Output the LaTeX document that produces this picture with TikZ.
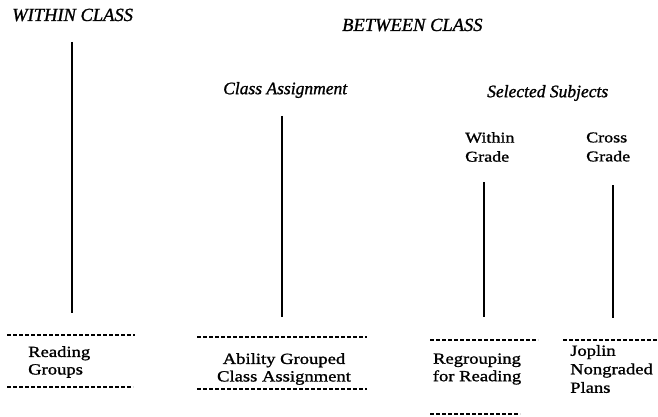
\documentclass[tikz,border=0pt]{standalone}
\usepackage{fontspec}
\setmainfont{Liberation Serif}
\newfontfamily\labelfont[FakeStretch=1.2, FakeBold=1.2]{Liberation Serif}
\newfontfamily\headfont[FakeBold=1.2]{Liberation Serif Italic}

\begin{document}
\begin{tikzpicture}[
    x=1pt, y=-1pt,
    head/.style={font=\headfont\fontsize{18.5}{22}\selectfont, anchor=west, inner sep=0pt},
    subhead/.style={font=\headfont\fontsize{17.5}{21}\selectfont, anchor=west, inner sep=0pt},
    kind/.style={font=\labelfont\fontsize{15}{19}\selectfont, align=left, anchor=west, inner sep=0pt},
    plan/.style={font=\labelfont\fontsize{15.5}{17.5}\selectfont, inner sep=0pt},
    stem/.style={line width=1.5pt},
    rule/.style={line width=1.5pt, dash pattern=on 4pt off 2pt}
  ]
    \useasboundingbox (0,0) rectangle (658,417);

    \node[head] (within) at (12,15) {WITHIN CLASS};
    \node[head] (between) at (342,25) {BETWEEN CLASS};
    \node[subhead] (assign) at (223,90) {Class Assignment};
    \node[subhead] (select) at (487,93) {Selected Subjects};
    \node[kind] (wgrade) at (465,147) {Within\\Grade};
    \node[kind] (cgrade) at (586,147) {Cross\\Grade};

    \node[plan, align=left, anchor=west] (reading) at (28,362) {Reading\\Groups};
    \node[plan, align=center] (ability) at (284,369) {Ability Grouped\\Class Assignment};
    \node[plan, align=center] (regroup) at (477,369) {Regrouping\\for Reading};
    \node[plan, align=left, anchor=west, font=\labelfont\fontsize{15.5}{18.5}\selectfont] (joplin) at (570,369) {Joplin\\Nongraded\\Plans};

    \coordinate (within top) at (72,42);
    \coordinate (within bot) at (72,313);
    \coordinate (assign top) at (282,116);
    \coordinate (assign bot) at (282,317);
    \coordinate (wgrade top) at (484,182);
    \coordinate (wgrade bot) at (484,317);
    \coordinate (cgrade top) at (613,185);
    \coordinate (cgrade bot) at (613,318);

    \draw[stem] (within top) -- (within bot);
    \draw[stem] (assign top) -- (assign bot);
    \draw[stem] (wgrade top) -- (wgrade bot);
    \draw[stem] (cgrade top) -- (cgrade bot);

    \draw[rule] (7,335) -- (135,335);
    \draw[rule] (7,387) -- (133,387);
    \draw[rule] (197,337) -- (367,337);
    \draw[rule] (197,389) -- (367,389);
    \draw[rule] (430,340) -- (538,340);
    \draw[rule] (563,340) -- (658,340);
    \draw[rule] (430,414) -- (520,414);
  \end{tikzpicture}
\end{document}
